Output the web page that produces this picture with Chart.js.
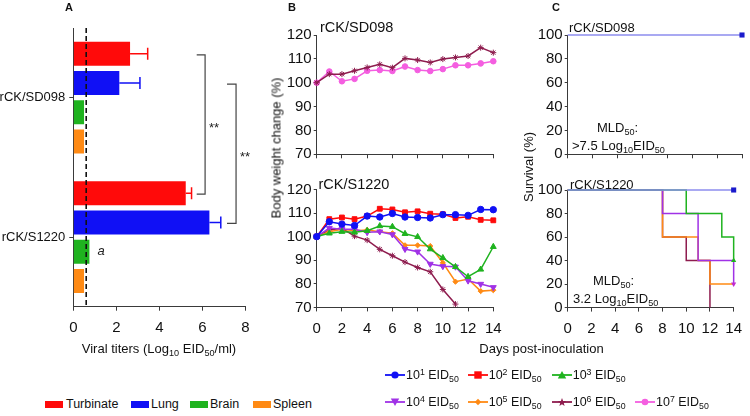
<!DOCTYPE html>
<html><head><meta charset="utf-8">
<script src="https://cdn.jsdelivr.net/npm/chart.js@4.4.1/dist/chart.umd.min.js"></script>
<style>
html,body{margin:0;padding:0;background:#fff}
body{width:750px;height:416px;position:relative;overflow:hidden;font-family:"Liberation Sans",Arial,sans-serif;color:#111}
.box{position:absolute}
.t{position:absolute;white-space:nowrap;line-height:1}
.sb{font-size:70%;position:relative;top:0.35em}
.sp{font-size:70%;position:relative;top:-0.45em}
.rot{transform:translate(-50%,-50%) rotate(-90deg);transform-origin:center}
</style></head><body>
<script>
// ---------------- DATA ----------------
const strains = ['rCK/SD098', 'rCK/S1220'];
const organs = ['Turbinate', 'Lung', 'Brain', 'Spleen'];
const titerTurbinate = [2.64, 5.23];
const sdTurbinate = [0.82, 0.27];
const titerLung = [2.14, 6.33];
const sdLung = [0.96, 0.53];
const titerBrain = [0.5, 0.75];
const titerSpleen = [0.5, 0.5];
const detectionLimit = 0.6;
const titerTicks = [0, 2, 4, 6, 8];

const days = [0,1,2,3,4,5,6,7,8,9,10,11,12,13,14];
const doseLabels = ['10¹', '10²', '10³', '10⁴', '10⁵', '10⁶', '10⁷'];
// body weight (%) rCK/SD098
const sd098_dose6 = [100,103.6,103.6,105,106.4,107.7,106.3,110.2,109.5,108.5,109.9,110.6,111.2,114.7,112.6];
const sd098_dose7 = [100,104.7,100.6,101.6,105,105.3,104.9,106.8,105.3,104.9,105.7,107.3,107.3,108.1,109];
// body weight (%) rCK/S1220
const s1220_dose1 = [100,106.3,105.3,104.7,108.7,108.3,109.8,108.3,108.1,107.9,109.3,109.3,109,111.5,111.4];
const s1220_dose2 = [100,107.4,108.1,107.4,108.7,111.8,111.5,110.3,110.7,109.7,109.5,107.9,108.4,107.1,106.9];
const s1220_dose3 = [100,101.4,102.1,101.8,102.5,104.5,104.2,101.2,99.9,94.7,91,87.2,83,86.1,95.7];
const s1220_dose4 = [100,103.6,103.1,103.1,101.8,102.1,100.9,94.7,93.6,88.4,87.4,87.2,81.3,79.9,78.5];
const s1220_dose5 = [100,102.1,103.1,102.5,102.8,102.1,101.4,96.3,96.3,96,88.9,80.9,82,76.9,77.3];
const s1220_dose6 = [100,102.8,103.5,100.2,98.5,94.6,91.9,89.2,86.9,85.1,77.6,71.4,null,null,null];
const weightTicks = [70, 80, 90, 100, 110, 120];
// survival (%) : days at which the value changes, and the value from that day
const survSD098Days = [0, 14];
const survSD098Pct  = [100, 100];
const survS1220_d1Days = [0, 14];        const survS1220_d1Pct = [100, 100];
const survS1220_d3Days = [0, 10, 13, 14]; const survS1220_d3Pct = [100, 80, 60, 40];
const survS1220_d4Days = [0, 8, 11, 14];  const survS1220_d4Pct = [100, 80, 40, 20];
const survS1220_d5Days = [0, 8, 11, 12, 14]; const survS1220_d5Pct = [100, 60, 40, 20, 20];
const survS1220_d6Days = [0, 8, 10, 12];  const survS1220_d6Pct = [100, 60, 40, 0];
const survTicks = [0, 20, 40, 60, 80, 100];

// ---------------- STYLE ----------------
const FONT = '"Liberation Sans", Arial, sans-serif';
const C = {red:'#ff0a0a', blue:'#1010f5', green:'#1fb31f', orange:'#ff8a14', purple:'#a032e6', maroon:'#8e1c4e', pink:'#f45ee0', lav:'#8c8cee', axis:'#3a3a3a'};

function addText(html, x, cy, fs, opts={}) {
  const d = document.createElement('div');
  d.className = 't';
  d.innerHTML = html;
  d.style.fontSize = fs + 'px';
  if (opts.bold) d.style.fontWeight = 'bold';
  if (opts.italic) d.style.fontStyle = 'italic';
  if (opts.center) { d.style.left = x + 'px'; d.style.top = cy + 'px'; d.style.transform = 'translate(-50%,-50%)'; }
  else if (opts.rot) { d.style.left = x + 'px'; d.style.top = cy + 'px'; d.className = 't rot'; }
  else { d.style.left = x + 'px'; d.style.top = (cy - 0.5 * fs) + 'px'; }
  document.body.appendChild(d);
  return d;
}

function axisX(min, max, step, showLabels, extra={}) {
  return Object.assign({
    type: 'linear', min, max,
    grid: {drawOnChartArea:false, drawTicks:true, tickLength:4, color:C.axis, tickWidth:1},
    border: {display:true, color:C.axis, width:1},
    ticks: {display:showLabels, stepSize:step, autoSkip:false, maxRotation:0, padding:8, color:'#111', font:{family:FONT, size:15}}
  }, extra);
}
function axisY(min, max, step, extra={}) {
  return Object.assign({
    type: 'linear', min, max,
    grid: {drawOnChartArea:false, drawTicks:true, tickLength:3, color:C.axis, tickWidth:1},
    border: {display:true, color:C.axis, width:1},
    ticks: {stepSize:step, autoSkip:false, padding:2, color:'#111', font:{family:FONT, size:15}}
  }, extra);
}

function makeChart(left, top, w, h, area, config) {
  const div = document.createElement('div');
  div.className = 'box';
  div.style.cssText = `left:${left}px;top:${top}px;width:${w}px;height:${h}px`;
  const cv = document.createElement('canvas');
  div.appendChild(cv);
  document.body.appendChild(div);
  const o = config.options;
  o.responsive = true; o.maintainAspectRatio = false; o.animation = false; o.events = [];
  o.layout = {padding:{left:0, top:area.t - top, right:left + w - area.r, bottom:0}};
  o.plugins = Object.assign({legend:{display:false}, tooltip:{enabled:false}}, o.plugins || {});
  o.scales.x.afterFit = s => { s.height = top + h - area.b; };
  o.scales.y.afterFit = s => { s.width = area.l - left; };
  return new Chart(cv, config);
}

// ---------------- PANEL A ----------------
const errorBars = {
  id: 'errorBars',
  afterDatasetsDraw(chart) {
    const ctx = chart.ctx, xs = chart.scales.x;
    chart.data.datasets.forEach((ds, i) => {
      if (!ds.sd) return;
      const meta = chart.getDatasetMeta(i);
      meta.data.forEach((bar, j) => {
        const xe = xs.getPixelForValue(ds.data[j] + ds.sd[j]);
        ctx.save();
        ctx.strokeStyle = ds.backgroundColor; ctx.lineWidth = 1.5;
        ctx.beginPath();
        ctx.moveTo(bar.x, bar.y); ctx.lineTo(xe, bar.y);
        ctx.moveTo(xe, bar.y - 6); ctx.lineTo(xe, bar.y + 6);
        ctx.stroke(); ctx.restore();
      });
    });
  }
};
const annotA = {
  id: 'annotA',
  afterDatasetsDraw(chart) {
    const ctx = chart.ctx, xs = chart.scales.x, a = chart.chartArea;
    // detection limit
    const xd = xs.getPixelForValue(detectionLimit);
    ctx.save();
    ctx.strokeStyle = '#111'; ctx.lineWidth = 1.6; ctx.setLineDash([5, 3]);
    ctx.beginPath(); ctx.moveTo(xd, a.top); ctx.lineTo(xd, a.bottom); ctx.stroke();
    ctx.setLineDash([]);
    // significance brackets between strains for turbinate (0) and lung (1)
    const brackets = [{ds:0, x:6.13, x0:5.74}, {ds:1, x:7.57, x0:7.15}];
    ctx.strokeStyle = '#444'; ctx.lineWidth = 1.2;
    ctx.fillStyle = '#222'; ctx.font = '13px ' + FONT; ctx.textAlign = 'center'; ctx.textBaseline = 'middle';
    brackets.forEach(b => {
      const m = chart.getDatasetMeta(b.ds);
      const y1 = m.data[0].y + 1, y2 = m.data[1].y + 1;
      const xb = xs.getPixelForValue(b.x), x0 = xs.getPixelForValue(b.x0);
      ctx.beginPath(); ctx.moveTo(x0, y1); ctx.lineTo(xb, y1); ctx.lineTo(xb, y2); ctx.lineTo(x0, y2); ctx.stroke();
      ctx.fillText('**', xb + 9, (y1 + y2) / 2 + 4);
    });
    // 'a' mark next to brain bar of rCK/S1220
    const mb = chart.getDatasetMeta(2).data[1];
    ctx.font = 'italic 13px ' + FONT; ctx.textAlign = 'left';
    ctx.fillText('a', mb.x + 8, mb.y);
    ctx.restore();
  }
};

makeChart(0, 0, 262, 372, {l:73.3, t:28, r:245.3, b:306.7}, {
  type: 'bar',
  data: {
    labels: strains,
    datasets: [
      {label:organs[0], data:titerTurbinate, sd:sdTurbinate, backgroundColor:C.red},
      {label:organs[1], data:titerLung, sd:sdLung, backgroundColor:C.blue},
      {label:organs[2], data:titerBrain, backgroundColor:C.green},
      {label:organs[3], data:titerSpleen, backgroundColor:C.orange}
    ].map(d => Object.assign(d, {categoryPercentage:0.84, barPercentage:0.82, borderWidth:0}))
  },
  options: {
    indexAxis: 'y',
    scales: {
      x: axisX(titerTicks[0], titerTicks[titerTicks.length-1], 2, true, {}),
      y: {type:'category', offset:true,
          grid:{drawOnChartArea:false, drawTicks:true, tickLength:4, offset:false, color:C.axis},
          border:{display:true, color:C.axis, width:1},
          ticks:{padding:4, color:'#111', font:{family:FONT, size:13}}}
    }
  },
  plugins: [errorBars, annotA]
});
addText('Viral titers (Log<span class="sb">10</span> EID<span class="sb">50</span>/ml)', 159, 349, 13, {center:true});

// ---------------- PANEL B ----------------
function pts(vals) { return days.map((d, i) => ({x:d, y:vals[i]})).filter(p => p.y !== null); }
const weightStyles = [
  {c:C.blue, s:'circle', r:3.2},
  {c:C.red, s:'rect', r:3.4},
  {c:C.green, s:'triangle', r:3.4},
  {c:C.purple, s:'triangle', r:3.4, rot:180},
  {c:C.orange, s:'rectRot', r:2.6},
  {c:C.maroon, s:'star', r:3},
  {c:C.pink, s:'circle', r:2.8}
];
function wds(k, vals) {
  const st = weightStyles[k];
  return {label:doseLabels[k], data:pts(vals), borderColor:st.c, backgroundColor:st.c, borderWidth:1.5, clip:false,
          pointStyle:st.s, pointRadius:st.r, pointRotation:st.rot || 0, pointBorderWidth:1, pointBorderColor:st.c, tension:0};
}
makeChart(262, 0, 250, 170, {l:316.7, t:35, r:493.3, b:154.3}, {
  type: 'line',
  data: {datasets: [wds(5, sd098_dose6), wds(6, sd098_dose7)]},
  options: {scales: {x: axisX(0, 14, 2, false), y: axisY(70, 120, 10)}}
});
makeChart(262, 170, 250, 200, {l:316.7, t:189.4, r:493.3, b:307.4}, {
  type: 'line',
  data: {datasets: [wds(0, s1220_dose1), wds(1, s1220_dose2), wds(2, s1220_dose3), wds(3, s1220_dose4), wds(4, s1220_dose5), wds(5, s1220_dose6)]},
  options: {scales: {x: axisX(0, 14, 2, true, {}), y: axisY(70, 120, 10)}}
});

// ---------------- PANEL C ----------------
function sds(dd, pp, color, st) {
  return {data: dd.map((d, i) => ({x:d, y:pp[i]})), borderColor:color, backgroundColor:st.fill || color, borderWidth:1.5,
          stepped:'before', clip:false,
          pointStyle:st.s || 'rect', pointRotation:st.rot || 0,
          pointRadius: dd.map((d, i) => (st.s && i === dd.length - 1) ? st.r : 0), pointBorderWidth:0};
}
makeChart(502, 0, 248, 170, {l:567.7, t:35, r:742, b:154.3}, {
  type: 'line',
  data: {datasets: [sds(survSD098Days, survSD098Pct, C.lav, {s:'rect', r:3.6, fill:'#1a1acc'})]},
  options: {scales: {x: axisX(0, 14, 2, false), y: axisY(0, 100, 20)}}
});
makeChart(502, 170, 248, 200, {l:567.7, t:190, r:742, b:307.6}, {
  type: 'line',
  data: {datasets: [
    sds(survS1220_d1Days, survS1220_d1Pct, C.lav, {s:'rect', r:3.6, fill:'#1a1acc'}),
    sds(survS1220_d3Days, survS1220_d3Pct, C.green, {s:'triangle', r:3}),
    sds(survS1220_d4Days, survS1220_d4Pct, C.purple, {s:'triangle', r:3, rot:180, fill:'#c02ad0'}),
    sds(survS1220_d5Days, survS1220_d5Pct, C.orange, {}),
    sds(survS1220_d6Days, survS1220_d6Pct, C.maroon, {})
  ]},
  options: {scales: {x: axisX(0, 14, 2, true, {}), y: axisY(0, 100, 20)}}
});

// ---------------- TEXT ----------------
addText('A', 65, 7, 11, {bold:true});
addText('B', 288, 7, 11, {bold:true});
addText('C', 552, 7, 11, {bold:true});
addText(strains[0], 320, 27, 14.5);
addText(strains[1], 318.5, 184, 14.5);
addText(strains[0], 569, 27, 13);
addText(strains[1], 570, 184, 13);
addText('Body weight change (%)', 276, 148, 13, {rot:true});
addText('Survival (%)', 528, 167, 13, {rot:true});
addText('Days post-inoculation', 541.5, 348, 13, {center:true});
addText('MLD<span class="sb">50</span>:', 597, 127, 13);
addText('&gt;7.5 Log<span class="sb">10</span>EID<span class="sb">50</span>', 572, 145, 13);
addText('MLD<span class="sb">50</span>:', 593, 280, 13);
addText('3.2 Log<span class="sb">10</span>EID<span class="sb">50</span>', 573, 298, 13);

// legend A
const legA = [[45, 66, C.red], [131, 151, C.blue], [190, 210, C.green], [253, 273, C.orange]];
organs.forEach((o, i) => {
  const b = document.createElement('div');
  b.className = 'box';
  b.style.cssText = `left:${legA[i][0]}px;top:400.5px;width:18px;height:7px;background:${legA[i][2]}`;
  document.body.appendChild(b);
  addText(o, legA[i][1], 404.5, 12.5);
});
// legend B/C
function markerSVG(k) {
  const st = weightStyles[k], c = st.c;
  let shp = '';
  if (k === 0) shp = `<circle cx="10" cy="5" r="3.6" fill="${c}"/>`;
  if (k === 1) shp = `<rect x="6.3" y="1.3" width="7.4" height="7.4" fill="${c}"/>`;
  if (k === 2) shp = `<polygon points="10,1 14.2,8.5 5.8,8.5" fill="${c}"/>`;
  if (k === 3) shp = `<polygon points="5.8,1.5 14.2,1.5 10,9" fill="${c}"/>`;
  if (k === 4) shp = `<polygon points="10,1.8 13.2,5 10,8.2 6.8,5" fill="${c}"/>`;
  if (k === 5) shp = `<polygon points="10,1 11.1,4 14.2,4.1 11.8,6 12.6,9 10,7.3 7.4,9 8.2,6 5.8,4.1 8.9,4" fill="${c}"/>`;
  if (k === 6) shp = `<circle cx="10" cy="5" r="3.3" fill="${c}"/>`;
  return `<svg width="20" height="10" style="position:absolute;left:0;top:0"><line x1="0" y1="5" x2="20" y2="5" stroke="${c}" stroke-width="1.8"/>${shp}</svg>`;
}
const legBx = [385, 467.7, 551.7, 635];
for (let k = 0; k < 7; k++) {
  const row = k < 3 ? 0 : 1, col = k < 3 ? k : k - 3;
  const cy = row === 0 ? 375 : 402;
  const m = document.createElement('div');
  m.className = 'box';
  m.style.cssText = `left:${legBx[col]}px;top:${cy - 5}px;width:20px;height:10px`;
  m.innerHTML = markerSVG(k);
  document.body.appendChild(m);
  const sup = doseLabels[k].slice(2);
  addText(`10<span class="sp">${'¹²³⁴⁵⁶⁷'.indexOf(sup) + 1}</span> EID<span class="sb">50</span>`, legBx[col] + 21, cy, 12.5);
}
</script>
</body></html>
